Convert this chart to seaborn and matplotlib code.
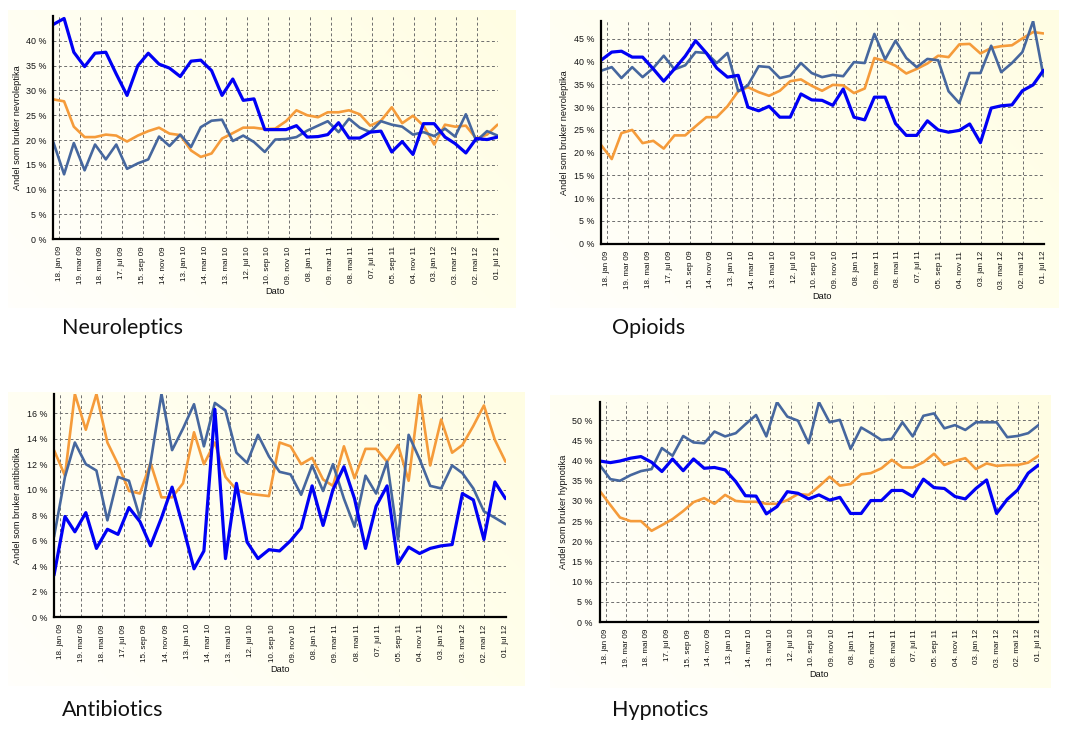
import matplotlib
matplotlib.use("Agg")
import matplotlib.pyplot as plt
import matplotlib.dates as mdates
import numpy as np
import pandas as pd
import seaborn as sns

# monthly observations, 1 jan 2009 .. 1 jul 2012
months = pd.date_range("2009-01-01", "2012-07-01", freq="MS")

tick_dates = pd.date_range("2009-01-18", periods=22, freq="60D")
tick_labels = [
    "18. jan 09", "19. mar 09", "18. mai 09", "17. jul 09", "15. sep 09", "14. nov 09",
    "13. jan 10", "14. mar 10", "13. mai 10", "12. jul 10", "10. sep 10", "09. nov 10",
    "08. jan 11", "09. mar 11", "08. mai 11", "07. jul 11", "05. sep 11", "04. nov 11",
    "03. jan 12", "03. mar 12", "02. mai 12", "01. jul 12",
]

neuro_blue = [43.3, 44.5, 37.7, 34.8, 37.5, 37.7, 33.3, 29.0, 35.0, 37.5, 35.3, 34.5, 32.8,
              35.9, 36.1, 34.0, 29.0, 32.3, 28.0, 28.3, 22.1, 22.1, 22.1, 22.9, 20.6, 20.7,
              21.1, 23.5, 20.4, 20.4, 21.6, 21.8, 17.6, 19.7, 17.1, 23.3, 23.3, 20.6, 19.3,
              17.4, 20.3, 20.1, 20.6]
neuro_steel = [19.6, 13.1, 19.4, 13.9, 19.1, 16.1, 19.1, 14.2, 15.3, 16.1, 20.7, 18.8, 21.1,
               18.6, 22.6, 23.9, 24.1, 19.8, 20.9, 19.6, 17.6, 20.1, 20.2, 20.6, 21.9, 22.9,
               23.8, 21.6, 24.3, 22.5, 21.6, 23.8, 23.1, 22.7, 21.1, 21.6, 20.8, 22.3, 20.7,
               25.2, 19.8, 21.8, 20.9]
neuro_orange = [28.2, 27.8, 22.7, 20.6, 20.6, 21.1, 20.9, 19.7, 20.9, 21.8, 22.5, 21.3, 21.0,
                17.9, 16.6, 17.3, 20.3, 21.4, 22.5, 22.5, 22.2, 22.3, 23.8, 26.0, 25.0, 24.6,
                25.6, 25.6, 26.0, 25.2, 22.9, 23.9, 26.6, 23.4, 24.9, 22.9, 19.1, 23.1, 22.7,
                22.9, 20.3, 21.1, 23.1]

opioid_blue = [40.3, 42.1, 42.3, 41.0, 41.0, 38.4, 35.7, 38.4, 41.2, 44.6, 41.9, 38.6, 36.6,
               37.0, 30.0, 29.2, 30.2, 27.8, 27.8, 32.9, 31.6, 31.5, 30.4, 34.0, 27.8, 27.2,
               32.2, 32.2, 26.4, 23.8, 23.8, 27.0, 25.0, 24.5, 24.9, 26.3, 22.2, 29.8, 30.3,
               30.5, 33.6, 34.9, 38.1]
opioid_steel = [38.0, 38.8, 36.4, 38.8, 36.6, 38.6, 41.3, 38.3, 39.2, 42.1, 41.9, 39.7, 41.9,
                33.5, 34.8, 39.0, 38.8, 36.4, 36.9, 39.7, 37.5, 36.6, 37.1, 36.8, 39.9, 39.7,
                46.1, 40.5, 44.6, 40.8, 38.8, 40.6, 40.3, 33.5, 30.9, 37.5, 37.5, 43.5, 37.7,
                39.7, 42.1, 48.9, 36.8]
opioid_orange = [21.7, 18.6, 24.3, 25.0, 22.1, 22.6, 20.9, 23.8, 23.8, 25.8, 27.8, 27.8, 30.2,
                 33.5, 34.4, 33.3, 32.5, 33.6, 35.7, 36.1, 34.7, 33.6, 34.9, 34.8, 33.1, 34.1,
                 40.8, 40.1, 39.1, 37.4, 38.4, 39.6, 41.3, 41.0, 43.8, 43.9, 41.8, 43.0, 43.4,
                 43.6, 45.1, 46.5, 46.2]

anti_blue = [3.3, 7.9, 6.7, 8.2, 5.4, 6.9, 6.5, 8.6, 7.5, 5.6, 7.8, 10.2, 7.1, 3.8, 5.2, 16.3,
             4.6, 10.5, 5.9, 4.6, 5.3, 5.2, 6.0, 7.0, 10.3, 7.2, 10.0, 11.8, 9.3, 5.4, 8.7, 10.3,
             4.2, 5.5, 5.0, 5.4, 5.6, 5.7, 9.7, 9.2, 6.1, 10.6, 9.3]
anti_steel = [6.3, 11.0, 13.7, 12.0, 11.5, 7.6, 11.0, 10.7, 7.8, 12.1, 17.5, 13.1, 14.8, 16.7,
              13.4, 16.8, 16.2, 12.9, 12.1, 14.3, 12.6, 11.4, 11.2, 9.6, 11.9, 9.9, 12.0, 9.3,
              7.1, 11.1, 9.7, 12.2, 6.1, 14.3, 12.4, 10.3, 10.1, 11.9, 11.3, 10.1, 8.3, 7.8, 7.3]
anti_orange = [13.1, 11.1, 17.5, 14.7, 17.5, 13.7, 12.0, 9.9, 9.7, 12.1, 9.4, 9.4, 10.5, 14.5,
               12.0, 13.7, 11.0, 10.0, 9.7, 9.6, 9.5, 13.7, 13.4, 12.0, 12.5, 10.8, 10.3, 13.4,
               10.9, 13.2, 13.2, 12.2, 13.5, 10.7, 17.5, 11.9, 15.5, 12.9, 13.5, 15.0, 16.6,
               13.9, 12.2]

hyp_blue = [39.9, 39.5, 39.9, 40.6, 41.0, 39.6, 37.3, 40.4, 37.5, 40.4, 38.1, 38.3, 37.7, 34.8,
            31.3, 31.2, 26.8, 28.6, 32.3, 31.9, 30.5, 31.5, 30.2, 30.9, 26.9, 26.9, 30.1, 30.1,
            32.6, 32.6, 31.1, 35.4, 33.3, 33.1, 31.1, 30.5, 33.1, 35.2, 26.9, 30.4, 32.7, 36.9,
            38.9]
hyp_steel = [38.9, 35.4, 35.0, 36.4, 37.4, 37.9, 43.1, 41.2, 46.1, 44.5, 44.3, 47.2, 46.0, 46.8,
             49.0, 51.3, 46.0, 54.5, 50.9, 49.9, 44.3, 54.5, 49.5, 50.1, 42.9, 48.2, 46.8, 45.1,
             45.4, 49.5, 46.0, 51.1, 51.7, 48.0, 48.8, 47.6, 49.5, 49.5, 49.5, 45.8, 46.1, 46.8,
             48.8]
hyp_orange = [32.5, 29.0, 25.9, 25.0, 25.0, 22.6, 24.0, 25.5, 27.5, 29.7, 30.7, 29.3, 31.5, 30.0,
              29.8, 29.8, 29.3, 29.3, 30.2, 31.7, 31.5, 33.6, 36.0, 33.8, 34.2, 36.6, 36.9, 38.1,
              40.2, 38.3, 38.3, 39.6, 41.7, 38.9, 39.9, 40.6, 37.9, 39.3, 38.7, 38.9, 38.9, 39.5,
              41.2]

BLUE = "#0000f5"
STEEL = "#46679e"
ORANGE = "#f59b3a"

W, H = 1067, 742


def px_rect(left, top, right, bottom):
    return [left / W, (H - bottom) / H, (right - left) / W, (bottom - top) / H]


panels = [
    dict(title="Neuroleptics", ylabel="Andel som bruker nevroleptika",
         series=(neuro_orange, neuro_steel, neuro_blue), yticks=np.arange(0, 41, 5), ymax=45,
         ax=(53.3, 16, 497.5, 239.3), bg=(8, 10, 516, 308), title_xy=(62, 328)),
    dict(title="Opioids", ylabel="Andel som bruker nevroleptika",
         series=(opioid_orange, opioid_steel, opioid_blue), yticks=np.arange(0, 46, 5), ymax=49,
         ax=(601, 20.7, 1043.5, 243.7), bg=(550, 10, 1058, 308), title_xy=(612, 328)),
    dict(title="Antibiotics", ylabel="Andel som bruker antibiotika",
         series=(anti_orange, anti_steel, anti_blue), yticks=np.arange(0, 17, 2), ymax=17.5,
         ax=(54, 394, 505.5, 617.3), bg=(8, 392, 525, 686), title_xy=(62, 710)),
    dict(title="Hypnotics", ylabel="Andel som bruker hypnotika",
         series=(hyp_orange, hyp_steel, hyp_blue), yticks=np.arange(0, 51, 5), ymax=54.6,
         ax=(599.7, 401.7, 1038.5, 622), bg=(550, 395, 1050, 688), title_xy=(612, 710)),
]

sns.set_theme(style="white")
plt.rcParams["font.family"] = ["Liberation Sans", "DejaVu Sans"]

fig = plt.figure(figsize=(W / 100, H / 100), dpi=100, facecolor="white")

# soft white -> pale yellow gradient behind every chart
gx = np.linspace(0, 1, 200)
gy = np.linspace(0, 1, 120)
GX, GY = np.meshgrid(gx, gy)
t = np.clip(0.65 * GX + 0.35 * (1 - GY), 0, 1)
c0 = np.array([1.0, 1.0, 0.985])
c1 = np.array([1.0, 0.995, 0.89])
grad = c0[None, None, :] * (1 - t[..., None]) + c1[None, None, :] * t[..., None]

for p in panels:
    bg_ax = fig.add_axes(px_rect(*p["bg"]), zorder=0)
    bg_ax.imshow(grad, aspect="auto", extent=(0, 1, 0, 1), origin="upper")
    bg_ax.axis("off")

    ax = fig.add_axes(px_rect(*p["ax"]), zorder=1)
    ax.set_facecolor("none")
    orange, steel, blue = p["series"]
    sns.lineplot(x=months, y=orange, ax=ax, color=ORANGE, linewidth=1.9)
    sns.lineplot(x=months, y=steel, ax=ax, color=STEEL, linewidth=1.9)
    sns.lineplot(x=months, y=blue, ax=ax, color=BLUE, linewidth=2.3)

    ax.set_xlim(months[0], months[-1])
    ax.set_ylim(0, p["ymax"])
    ax.set_xticks(tick_dates)
    ax.set_xticklabels(tick_labels, rotation=90, fontsize=5.8, color="#111111")
    ax.xaxis.set_minor_locator(mdates.DayLocator(interval=10))
    ax.set_yticks(p["yticks"])
    ax.set_yticklabels([f"{v:g} %" for v in p["yticks"]], fontsize=6.4, color="#111111")
    ax.tick_params(axis="both", which="major", direction="out", length=3, width=0.8,
                   color="#333333", pad=2)
    ax.tick_params(axis="x", which="minor", direction="out", length=2, width=0.6,
                   color="#333333")

    ax.grid(True, which="major", color="#6e6e6e", linestyle=(0, (3, 2.5)), linewidth=0.7)
    for side in ("top", "right"):
        ax.spines[side].set_visible(False)
    for side in ("left", "bottom"):
        ax.spines[side].set_color("black")
        ax.spines[side].set_linewidth(1.6)

    ax.set_ylabel(p["ylabel"], fontsize=6.6, labelpad=3, color="#111111")
    ax.set_xlabel("Dato", fontsize=6.6, labelpad=2, color="#111111")

    tx, ty = p["title_xy"]
    fig.text(tx / W, 1 - ty / H, p["title"], fontsize=15.5, family=["Lato", "DejaVu Sans"],
             ha="left", va="center", color="#111111")

fig.savefig("out.png", dpi=100, facecolor="white")
plt.close(fig)
